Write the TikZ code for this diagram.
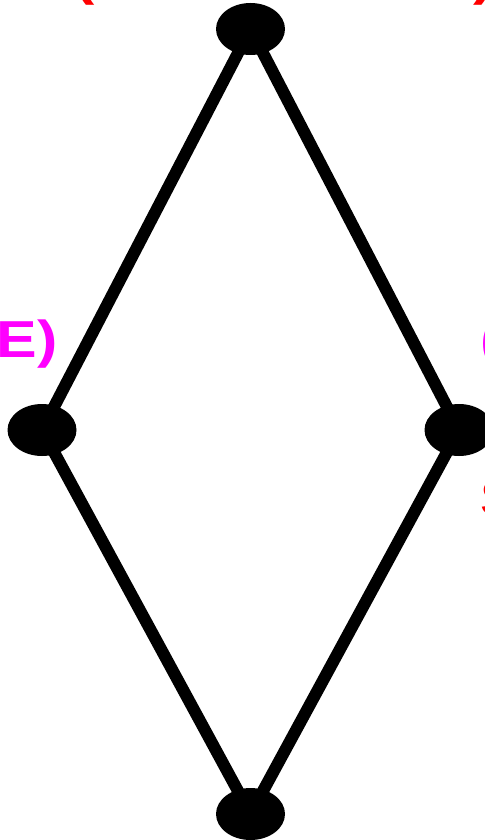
\documentclass[tikz,border=0pt]{standalone}
\usepackage{fontspec}
\setmainfont{Liberation Sans}
\newfontfamily\tagfont[FakeStretch=1.17]{Liberation Sans}
\usetikzlibrary{shapes.geometric, positioning, backgrounds}
\definecolor{namered}{RGB}{255,0,0}
\definecolor{valmagenta}{RGB}{255,0,255}

\begin{document}
\begin{tikzpicture}[
    x=0.5pt, y=-0.5pt,
    vertex/.style={ellipse, fill=black, inner sep=0pt, minimum width=34.5pt, minimum height=26pt},
    edge/.style={line width=6pt},
    tag/.style={inner sep=0pt, font=\tagfont\fontsize{26}{31}\selectfont\bfseries}
]
    \useasboundingbox (0,0) rectangle (485,840);
    \clip (0,0) rectangle (485,840);

    % Vertices
    \node[vertex] (top) at (250.5,29) {};
    \node[vertex] (left) at (42,430) {};
    \node[vertex] (right) at (459,430) {};
    \node[vertex] (bottom) at (250.5,814) {};

    % Edges
    \begin{scope}[on background layer]
        \draw[edge] (top.center) -- (left.center);
        \draw[edge] (top.center) -- (right.center);
        \draw[edge] (left.center) -- (bottom.center);
        \draw[edge] (right.center) -- (bottom.center);
    \end{scope}

    % Labels
    \node[tag, namered, anchor=base west] (toplbl) at (74,-5) {(TRUE/FALSE)};
    \node[tag, valmagenta, anchor=base east] (leftlbl) at (58,357) {(FALSE)};
    \node[tag, valmagenta, anchor=base west] (rightlbl) at (480.5,357) {(TRUE)};
    \node[tag, namered, anchor=base west] (rightname) at (480.5,516) {SOME};

\end{tikzpicture}
\end{document}
